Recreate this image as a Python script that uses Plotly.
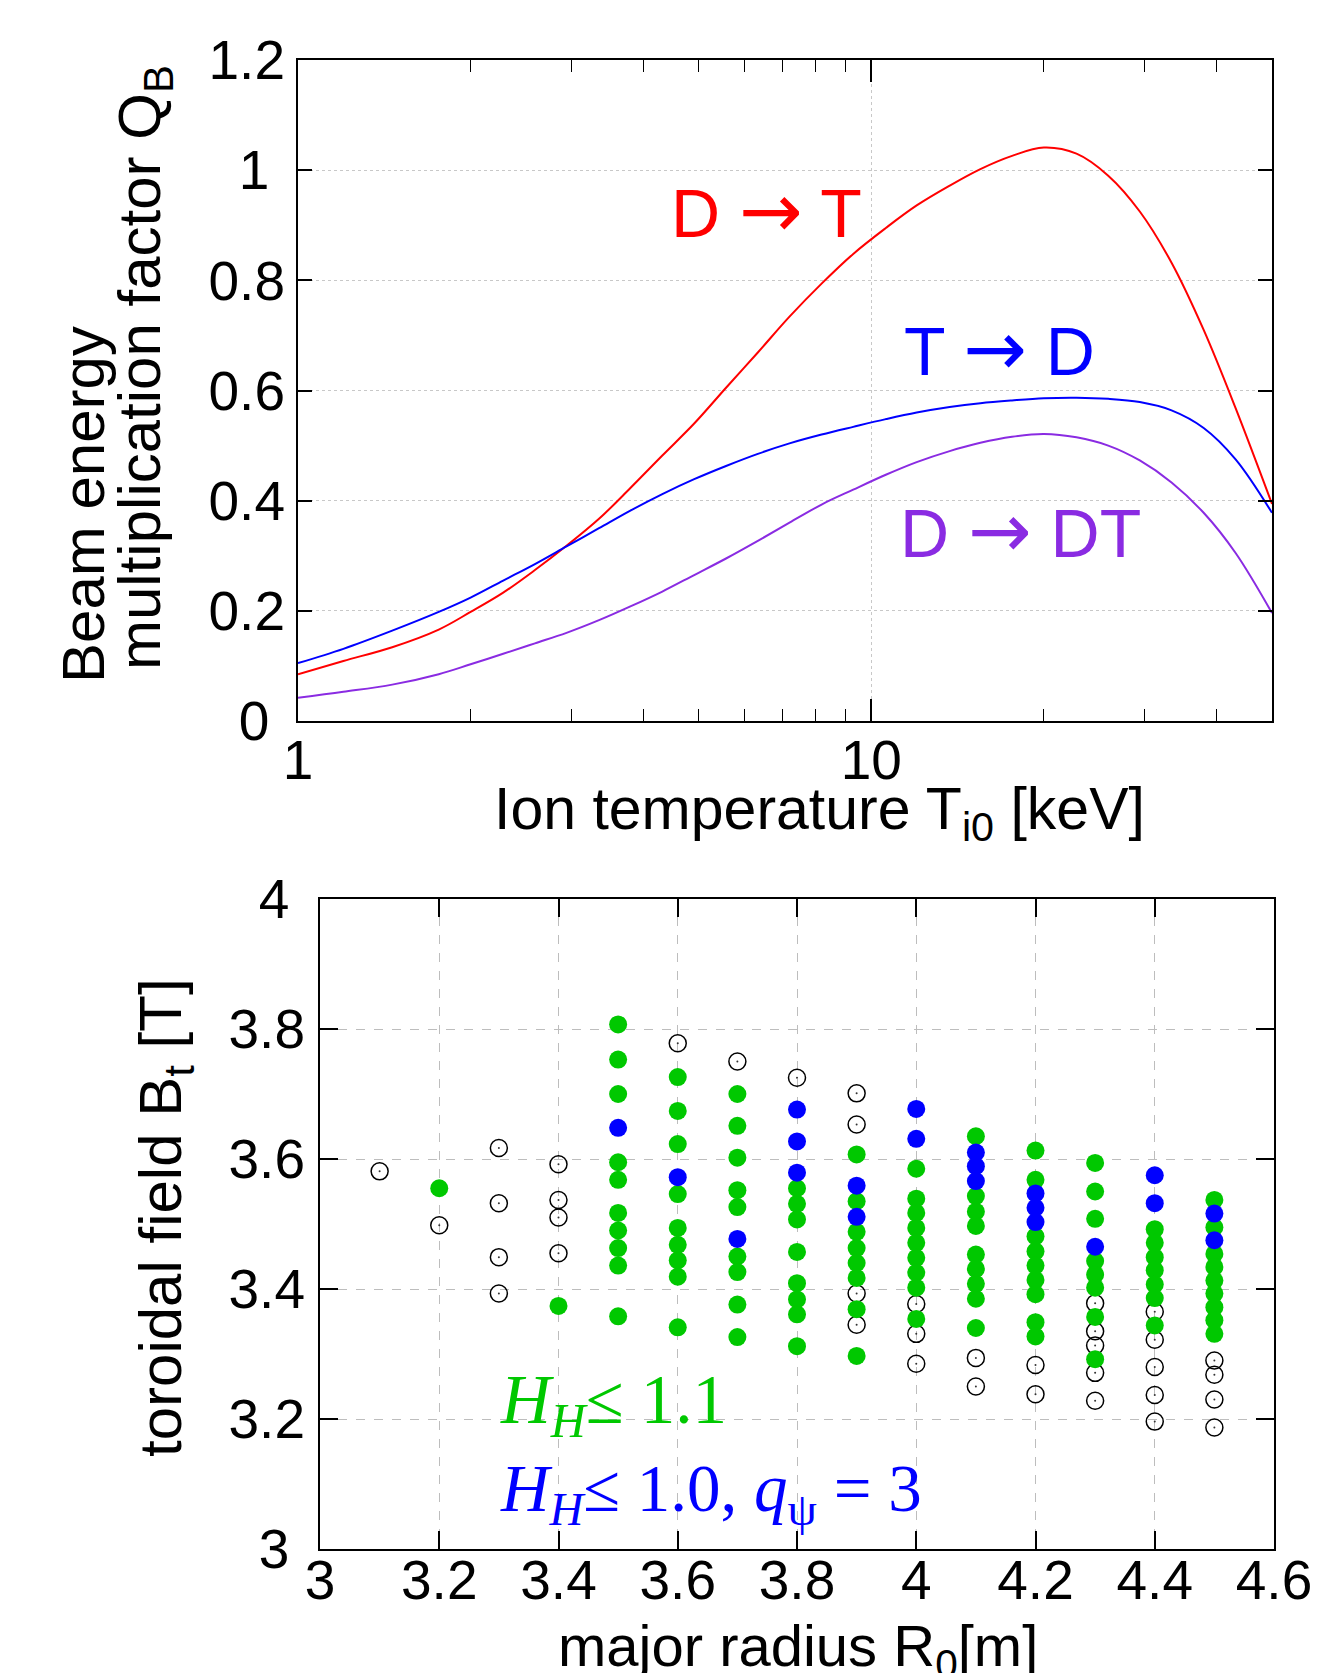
import plotly.graph_objects as go
import math

W, H = 1343, 1673
OFF = 8  # default page margin of the html body

# ---------------- Top panel data ----------------
T_keV = [1, 1.2, 1.46, 1.76, 2.0, 2.28, 2.59, 2.94, 3.35, 3.8, 4.32, 4.91, 5.58, 6.34, 7.2, 8.19, 9.3, 10.6,
         12.0, 13.7, 15.5, 17.6, 20.0, 22.8, 25.9, 29.4, 33.4, 38, 43.2, 50]
Q_DT_red = [0.085, 0.109, 0.134, 0.166, 0.198, 0.233, 0.274, 0.318, 0.367, 0.423, 0.482, 0.540, 0.605, 0.669,
            0.734, 0.794, 0.848, 0.895, 0.936, 0.972, 1.002, 1.026, 1.041, 1.030, 0.990, 0.925, 0.832, 0.710,
            0.568, 0.394]
Q_TD_blue = [0.105, 0.131, 0.164, 0.198, 0.224, 0.255, 0.285, 0.317, 0.350, 0.382, 0.412, 0.439, 0.463, 0.485,
             0.504, 0.520, 0.534, 0.548, 0.560, 0.570, 0.577, 0.582, 0.586, 0.587, 0.585, 0.579, 0.564, 0.532,
             0.475, 0.378]
Q_DDT_purple = [0.042, 0.053, 0.066, 0.085, 0.103, 0.122, 0.141, 0.160, 0.183, 0.208, 0.235, 0.265, 0.295, 0.327,
                0.360, 0.393, 0.420, 0.447, 0.470, 0.490, 0.505, 0.516, 0.521, 0.515, 0.500, 0.473, 0.433, 0.378,
                0.305, 0.196]

# ---------------- Bottom panel data ----------------
open_R = [3.1, 3.2, 3.3, 3.3, 3.3, 3.3, 3.4, 3.4, 3.4, 3.4, 3.6, 3.7, 3.8, 3.9, 3.9, 3.9, 3.9,
          4.0, 4.0, 4.0, 4.1, 4.1, 4.2, 4.2, 4.3, 4.3, 4.3, 4.3, 4.3, 4.4, 4.4, 4.4, 4.4, 4.4,
          4.5, 4.5, 4.5, 4.5]
open_B = [3.581, 3.498, 3.617, 3.532, 3.449, 3.393, 3.592, 3.537, 3.510, 3.455, 3.778, 3.750, 3.725,
          3.701, 3.653, 3.393, 3.345, 3.377, 3.331, 3.285, 3.294, 3.250, 3.283, 3.238,
          3.378, 3.335, 3.313, 3.271, 3.228, 3.365, 3.322, 3.280, 3.237, 3.196,
          3.290, 3.268, 3.230, 3.187]

green_R = ([3.2, 3.4] + [3.5] * 10 + [3.6] * 9 + [3.7] * 9 + [3.8] * 8 + [3.9] * 8 + [4.0] * 9 + [4.1] * 9 +
           [4.2] * 9 + [4.3] * 8 + [4.4] * 7 + [4.5] * 9)
green_B = [3.555, 3.374,
           3.807, 3.753, 3.700, 3.595, 3.568, 3.517, 3.490, 3.463, 3.436, 3.358,
           3.726, 3.674, 3.623, 3.546, 3.494, 3.468, 3.444, 3.419, 3.341,
           3.700, 3.651, 3.602, 3.552, 3.526, 3.450, 3.426, 3.376, 3.326,
           3.555, 3.531, 3.507, 3.457, 3.409, 3.384, 3.361, 3.312,
           3.607, 3.535, 3.488, 3.463, 3.440, 3.417, 3.369, 3.297,
           3.585, 3.539, 3.517, 3.494, 3.471, 3.448, 3.425, 3.402, 3.354,
           3.635, 3.543, 3.519, 3.497, 3.453, 3.431, 3.408, 3.385, 3.340,
           3.613, 3.568, 3.481, 3.458, 3.436, 3.414, 3.392, 3.349, 3.327,
           3.594, 3.550, 3.508, 3.443, 3.422, 3.402, 3.357, 3.292,
           3.492, 3.471, 3.449, 3.429, 3.407, 3.386, 3.344,
           3.537, 3.495, 3.454, 3.434, 3.413, 3.393, 3.372, 3.352, 3.331]

blue_R = [3.5, 3.6, 3.7, 3.8, 3.8, 3.8, 3.9, 3.9, 4.0, 4.0, 4.1, 4.1, 4.1, 4.2, 4.2, 4.2, 4.3, 4.4, 4.4, 4.5, 4.5]
blue_B = [3.648, 3.572, 3.477, 3.676, 3.627, 3.579, 3.559, 3.511, 3.677, 3.631, 3.610, 3.589, 3.566,
          3.547, 3.525, 3.503, 3.465, 3.575, 3.532, 3.516, 3.475]

x_log_ticks = [1, 10]
x_log_minor = [2, 3, 4, 5, 6, 7, 8, 9, 20, 30, 40, 50]
q_ticks = [0, 0.2, 0.4, 0.6, 0.8, 1.0, 1.2]
q_ticklabels = ["0", "0.2", "0.4", "0.6", "0.8", "1", "1.2"]
r_ticks = [3, 3.2, 3.4, 3.6, 3.8, 4, 4.2, 4.4, 4.6]
r_ticklabels = ["3", "3.2", "3.4", "3.6", "3.8", "4", "4.2", "4.4", "4.6"]
b_ticks = [3, 3.2, 3.4, 3.6, 3.8, 4]
b_ticklabels = ["3", "3.2", "3.4", "3.6", "3.8", "4"]

RED, BLUE, PURPLE, GREEN = "#ff0000", "#0000ff", "#8a2be2", "#00c800"
SANS = "Liberation Sans, Arial, sans-serif"
SERIF = "Liberation Serif, Times New Roman, serif"
ARROW = '<span style="font-family:DejaVu Sans;font-size:76px">\u2192</span>'
PAD = "\u2009\u200a"  # single-digit end labels sit a little further left in the original

FW, FH = W - OFF, H - OFF


def px(x, y):
    return (x - OFF) / FW, 1 - (y - OFF) / FH


def pad_short(labels):
    return [t + PAD if len(t) == 1 else t for t in labels]


fig = go.Figure()

# top curves
for yv, col in [(Q_DT_red, RED), (Q_TD_blue, BLUE), (Q_DDT_purple, PURPLE)]:
    fig.add_trace(go.Scatter(x=T_keV, y=yv, mode="lines", line=dict(color=col, width=2, shape="spline", smoothing=1.0),
                             xaxis="x", yaxis="y", showlegend=False, hoverinfo="skip"))

# bottom scatter
fig.add_trace(go.Scatter(x=open_R, y=open_B, mode="markers", xaxis="x2", yaxis="y2", showlegend=False,
                         marker=dict(symbol="circle-open", size=17, color="black", line=dict(width=1.5))))
fig.add_trace(go.Scatter(x=open_R, y=open_B, mode="markers", xaxis="x2", yaxis="y2", showlegend=False,
                         marker=dict(symbol="circle", size=2, color="#333333")))
fig.add_trace(go.Scatter(x=green_R, y=green_B, mode="markers", xaxis="x2", yaxis="y2", showlegend=False,
                         marker=dict(symbol="circle", size=18, color=GREEN, line=dict(width=0))))
fig.add_trace(go.Scatter(x=blue_R, y=blue_B, mode="markers", xaxis="x2", yaxis="y2", showlegend=False,
                         marker=dict(symbol="circle", size=18, color=BLUE, line=dict(width=0))))

tick_font = dict(family=SANS, size=55, color="black")
common = dict(showline=True, linecolor="black", linewidth=2, mirror="ticks", ticks="inside",
              tickcolor="black", tickwidth=1.5, tickfont=tick_font, zeroline=False, automargin=False)


def xdom(a, b):
    return [px(a, 0)[0], px(b, 0)[0]]


def ydom(top, bottom):
    return [px(0, bottom)[1], px(0, top)[1]]


fig.update_layout(
    width=FW, height=FH, margin=dict(l=0, r=0, t=0, b=0, autoexpand=False),
    paper_bgcolor="white", plot_bgcolor="white",
    xaxis=dict(domain=xdom(298, 1272), anchor="y", type="log", range=[0, math.log10(50)],
               tickmode="array", tickvals=x_log_ticks, ticktext=[str(v) for v in x_log_ticks], ticklen=22,
               showgrid=True, gridcolor="#c8c8c8", griddash="dot", gridwidth=1,
               minor=dict(tickmode="array", tickvals=x_log_minor, ticks="inside", ticklen=12,
                          tickcolor="black", tickwidth=1.2, showgrid=False),
               ticklabelstandoff=-10, **common),
    yaxis=dict(domain=ydom(60, 721), anchor="x", range=[0, 1.2], tickmode="array", tickvals=q_ticks,
               ticktext=pad_short(q_ticklabels), ticklen=14,
               showgrid=True, gridcolor="#c8c8c8", griddash="dot", gridwidth=1,
               ticklabelstandoff=0, **common),
    xaxis2=dict(domain=xdom(320, 1274), anchor="y2", range=[3, 4.6], tickmode="array", tickvals=r_ticks,
                ticktext=r_ticklabels, ticklen=18, showgrid=True, gridcolor="#bdbdbd", griddash="dash",
                gridwidth=1, ticklabelstandoff=-18, **common),
    yaxis2=dict(domain=ydom(899, 1549), anchor="x2", range=[3, 4], tickmode="array", tickvals=b_ticks,
                ticktext=pad_short(b_ticklabels), ticklen=18, showgrid=True, gridcolor="#bdbdbd",
                griddash="dash", gridwidth=1, ticklabelstandoff=2, **common),
)

ann = []


def add_text(text, xp, yp, size, color="black", family=SANS, angle=0, xanchor="center", yanchor="middle"):
    x, y = px(xp, yp)
    ann.append(dict(text=text, x=x, y=y, xref="paper", yref="paper", showarrow=False, textangle=angle,
                    xanchor=xanchor, yanchor=yanchor, font=dict(family=family, size=size, color=color)))


# curve labels
add_text("D " + ARROW + " T", 766, 210, 68, RED)
add_text("T " + ARROW + " D", 999, 349, 68, BLUE)
add_text("D " + ARROW + " DT", 1020, 530, 68, PURPLE)

# axis titles
add_text("Beam energy", 83, 505, 60, angle=-90)
add_text("multiplication factor Q<sub>B</sub>", 144, 368, 60, angle=-90)
add_text("Ion temperature T<sub>i0</sub> [keV]", 820, 813, 59)
add_text("toroidal field B<sub>t</sub> [T]", 165, 1218, 60, angle=-90)
add_text("major radius R<sub>0</sub>[m]", 798, 1650, 58)

# condition labels
add_text("<i>H</i><sub><i>H</i></sub>\u2264 1.1", 498, 1404, 69, GREEN, family=SERIF, xanchor="left")
add_text("<i>H</i><sub><i>H</i></sub>\u2264 1.0, <i>q</i><sub>\u03c8</sub> = 3", 498, 1493, 67, BLUE,
         family=SERIF, xanchor="left")

fig.update_layout(annotations=ann)

fig.write_html("out.html")
